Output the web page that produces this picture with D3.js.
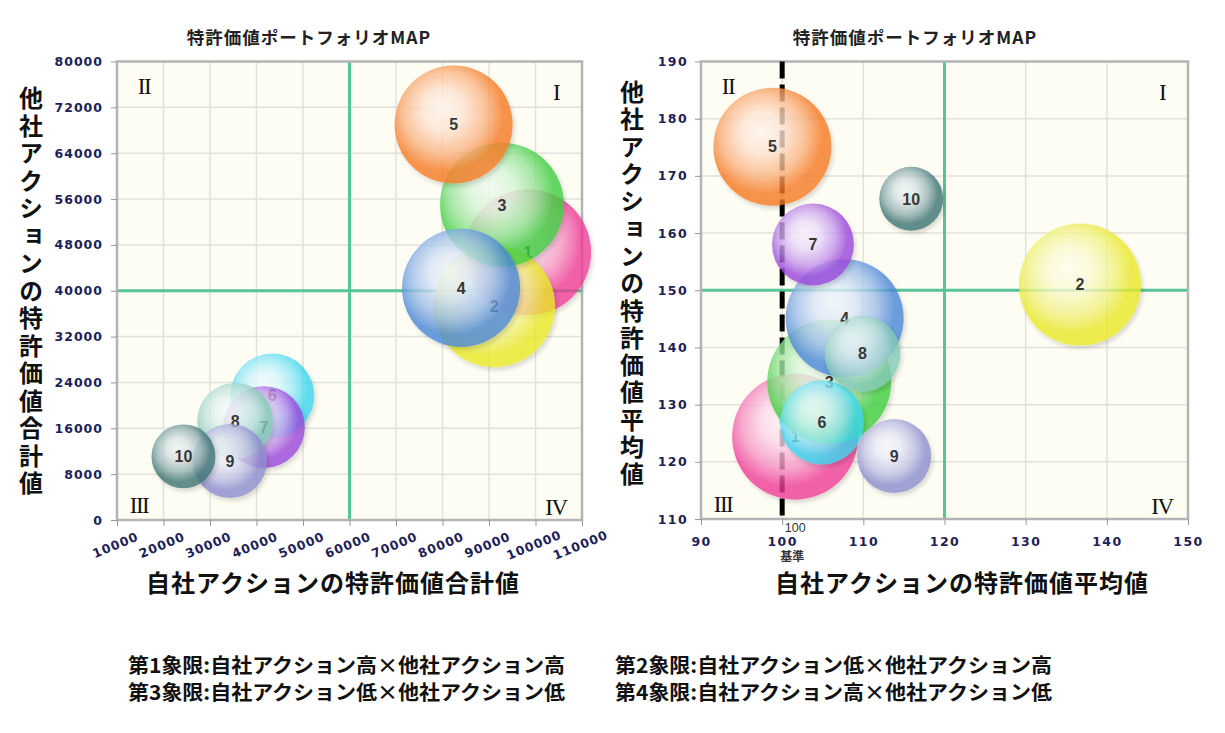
<!DOCTYPE html>
<html><head><meta charset="utf-8">
<script src="https://cdn.jsdelivr.net/npm/d3@7"></script>
<style>body{margin:0;background:#fff} svg{display:block}</style>
</head><body><svg id="c" width="1225" height="733"></svg>
<script>
// ---- data ----
const ids = [1, 2, 3, 4, 5, 6, 7, 8, 9, 10];
const bubbleSize = [400, 375, 387, 351, 351, 178, 169, 145, 138, 103];
// left: 合計値
const leftX = [98400, 91100, 92800, 84000, 82400, 43400, 41600, 35400, 34300, 24300];
const leftY = [46700, 37300, 55000, 40500, 69000, 21700, 16200, 17300, 10300, 11100];
// right: 平均値
const rightX = [101.6, 136.7, 105.8, 107.7, 98.8, 104.9, 103.8, 109.9, 113.8, 115.9];
const rightY = [124.4, 151.0, 134.0, 145.1, 175.1, 126.9, 158.0, 138.9, 121.0, 166.0];
const leftXTicks = [10000, 20000, 30000, 40000, 50000, 60000, 70000, 80000, 90000, 100000, 110000];
const leftYTicks = [0, 8000, 16000, 24000, 32000, 40000, 48000, 56000, 64000, 72000, 80000];
const rightXTicks = [90, 100, 110, 120, 130, 140, 150];
const rightYTicks = [110, 120, 130, 140, 150, 160, 170, 180, 190];
const leftDiv = [60000, 40000];
const rightDiv = [120, 150];
const baseValue = 100;
const chartTitle = "特許価値ポートフォリオMAP";
const leftXTitle = "自社アクションの特許価値合計値";
const leftYTitle = "他社アクションの特許価値合計値";
const rightXTitle = "自社アクションの特許価値平均値";
const rightYTitle = "他社アクションの特許価値平均値";
const quadrants = ["I", "II", "III", "IV"];
const captions = [
  "第1象限:自社アクション高×他社アクション高",
  "第2象限:自社アクション低×他社アクション高",
  "第3象限:自社アクション低×他社アクション低",
  "第4象限:自社アクション高×他社アクション低"
];
const colors = ["#ee3a94", "#e8e828", "#3ccc3c", "#4a86d6", "#f67820", "#38d6ee", "#9844da", "#84c8b6", "#8a8ccc", "#3b7272"];

// ---- drawing ----
const svg = d3.select('#c');
svg.append('rect').attr('width', 1225).attr('height', 733).attr('fill', '#fff');
const defs = svg.append('defs');
colors.forEach((c, i) => {
  const g = defs.append('radialGradient').attr('id', 'g' + i)
    .attr('cx', '44%').attr('cy', '42%').attr('r', '58%').attr('fx', '40%').attr('fy', '36%');
  const mix = t => d3.interpolateRgb('#ffffff', c)(t);
  [[0, 0.08], [0.3, 0.2], [0.6, 0.55], [0.84, 1], [1, 1]].forEach(([o, t]) =>
    g.append('stop').attr('offset', o).attr('stop-color', mix(t)));
});
const sh = defs.append('filter').attr('id', 'sh').attr('x', '-20%').attr('y', '-20%').attr('width', '150%').attr('height', '150%');
sh.append('feDropShadow').attr('dx', 2).attr('dy', 3).attr('stdDeviation', 2).attr('flood-color', '#000').attr('flood-opacity', 0.18);

const rScale = d3.scaleSqrt().domain([0, d3.max(bubbleSize)]).range([0, 63]);
const tickFont = "'DejaVu Sans', Verdana, sans-serif";
const cjk = "'Noto Sans CJK JP', 'Noto Sans CJK SC', sans-serif";

function chart(cfg) {
  const x = d3.scaleLinear().domain(cfg.xDomain).range([cfg.left, cfg.right]);
  const y = d3.scaleLinear().domain(cfg.yDomain).range([cfg.bottom, cfg.top]);
  const g = svg.append('g');
  // background
  g.append('rect').attr('x', cfg.left).attr('y', cfg.top)
    .attr('width', cfg.right - cfg.left).attr('height', cfg.bottom - cfg.top)
    .attr('fill', '#fdfdf4');
  // grid
  g.selectAll('.gx').data(cfg.xTicks).join('line')
    .attr('x1', d => x(d)).attr('x2', d => x(d)).attr('y1', cfg.top).attr('y2', cfg.bottom)
    .attr('stroke', '#e2e2dc').attr('stroke-width', 1.5);
  g.selectAll('.gy').data(cfg.yTicks).join('line')
    .attr('y1', d => y(d)).attr('y2', d => y(d)).attr('x1', cfg.left).attr('x2', cfg.right)
    .attr('stroke', '#e2e2dc').attr('stroke-width', 1.5);
  // quadrant lines
  g.append('line').attr('x1', x(cfg.div[0])).attr('x2', x(cfg.div[0])).attr('y1', cfg.top).attr('y2', cfg.bottom)
    .attr('stroke', '#55c497').attr('stroke-width', 3);
  g.append('line').attr('y1', y(cfg.div[1])).attr('y2', y(cfg.div[1])).attr('x1', cfg.left).attr('x2', cfg.right)
    .attr('stroke', '#55c497').attr('stroke-width', 3);
  // border
  g.append('rect').attr('x', cfg.left).attr('y', cfg.top)
    .attr('width', cfg.right - cfg.left).attr('height', cfg.bottom - cfg.top)
    .attr('fill', 'none').attr('stroke', '#b4b4b4').attr('stroke-width', 2.5);
  // baseline
  if (cfg.base !== undefined) {
    g.append('line').attr('x1', x(cfg.base)).attr('x2', x(cfg.base)).attr('y1', cfg.top).attr('y2', cfg.bottom)
      .attr('stroke', '#000').attr('stroke-width', 5).attr('stroke-dasharray', '17,6');
  }
  // axes
  const ya = g.append('g').attr('transform', `translate(${cfg.left},0)`)
    .call(d3.axisLeft(y).tickValues(cfg.yTicks).tickSize(6).tickPadding(cfg.yPad).tickFormat(d3.format('d')));
  ya.select('.domain').remove();
  ya.selectAll('line').attr('stroke', '#999');
  ya.selectAll('text').attr('font-family', tickFont).attr('font-weight', 'bold').attr('font-size', 12.5)
    .attr('fill', '#1e1e58').attr('letter-spacing', cfg.ls);
  const xa = g.append('g').attr('transform', `translate(0,${cfg.bottom})`)
    .call(d3.axisBottom(x).tickValues(cfg.xTicks).tickSize(6).tickPadding(cfg.xPad).tickFormat(d3.format('d')));
  xa.select('.domain').remove();
  xa.selectAll('line').attr('stroke', '#999');
  xa.selectAll('text').attr('font-family', tickFont).attr('font-weight', 'bold').attr('font-size', 12.5)
    .attr('fill', '#1e1e58').attr('letter-spacing', cfg.ls);
  if (cfg.rotate) {
    xa.selectAll('text').attr('y', 0).attr('dy', '0.35em').attr('text-anchor', 'middle')
      .attr('transform', 'translate(-2,25) rotate(-22)');
  }
  // quadrant numerals
  const qpos = [[cfg.right - 26, cfg.top + 38], [cfg.left + 27, cfg.top + 32], [cfg.left + 22, cfg.bottom - 7], [cfg.right - 26, cfg.bottom - 5]];
  quadrants.forEach((q, i) => {
    g.append('text').attr('x', qpos[i][0]).attr('y', qpos[i][1]).attr('text-anchor', 'middle')
      .attr('font-family', "'Liberation Serif', 'DejaVu Serif', serif").attr('font-size', 23)
      .attr('letter-spacing', -1.5).attr('fill', '#111').text(q);
  });
  // bubbles
  const bg = g.selectAll('.b').data(ids).join('g');
  bg.append('circle')
    .attr('cx', (d, i) => x(cfg.xs[i])).attr('cy', (d, i) => y(cfg.ys[i]))
    .attr('r', (d, i) => rScale(bubbleSize[i]))
    .attr('fill', (d, i) => `url(#g${i})`).attr('opacity', 0.8).attr('filter', 'url(#sh)');
  bg.append('text')
    .attr('x', (d, i) => x(cfg.xs[i])).attr('y', (d, i) => y(cfg.ys[i]))
    .attr('dy', '0.36em').attr('text-anchor', 'middle')
    .attr('font-family', "'Liberation Sans', Arial, sans-serif").attr('font-weight', 'bold').attr('font-size', 16)
    .attr('fill', '#383838').text(d => d);
  // title
  g.append('text').attr('x', cfg.titleX).attr('y', 44).attr('text-anchor', 'middle')
    .attr('font-family', cjk).attr('font-weight', 'bold').attr('font-size', 17.5).attr('letter-spacing', 1)
    .attr('fill', '#222').text(chartTitle);
  // x title
  g.append('text').attr('x', cfg.xTitleX).attr('y', 592).attr('text-anchor', 'middle')
    .attr('font-family', cjk).attr('font-weight', 'bold').attr('font-size', 24).attr('letter-spacing', 1)
    .attr('fill', '#111').text(cfg.xTitle);
  // y title (vertical writing)
  g.append('text').attr('x', cfg.yTitleX).attr('y', cfg.yTitleY0)
    .attr('font-family', cjk).attr('font-weight', 'bold').attr('font-size', 24)
    .attr('letter-spacing', cfg.yTitleStep - 24)
    .style('writing-mode', 'vertical-rl').style('text-orientation', 'upright')
    .attr('fill', '#111').text(cfg.yTitle);
  return { x, y, g };
}

chart({
  left: 117, right: 582, top: 61.5, bottom: 520,
  xDomain: [10000, 110000], yDomain: [0, 80000],
  xTicks: leftXTicks, yTicks: leftYTicks, xs: leftX, ys: leftY,
  div: leftDiv, yPad: 8, xPad: 8, ls: 1, rotate: true,
  titleX: 309, xTitle: leftXTitle, xTitleX: 333,
  yTitle: leftYTitle, yTitleX: 31, yTitleY0: 86, yTitleStep: 27.5
});
const R = chart({
  left: 701, right: 1188, top: 61.5, bottom: 519,
  xDomain: [90, 150], yDomain: [110, 190],
  xTicks: rightXTicks, yTicks: rightYTicks, xs: rightX, ys: rightY,
  div: rightDiv, yPad: 7, xPad: 12, ls: 1.4, rotate: false, base: baseValue,
  titleX: 915, xTitle: rightXTitle, xTitleX: 962,
  yTitle: rightYTitle, yTitleX: 632, yTitleY0: 80, yTitleStep: 27.3
});
// baseline annotation
R.g.append('text').attr('x', R.x(baseValue) + 13).attr('y', 532).attr('text-anchor', 'middle')
  .attr('font-family', "'Liberation Sans', Arial, sans-serif").attr('font-size', 12.5).attr('fill', '#333').text(baseValue);
R.g.append('text').attr('x', R.x(baseValue) + 10).attr('y', 561).attr('text-anchor', 'middle')
  .attr('font-family', cjk).attr('font-size', 12).attr('font-weight', 'bold').attr('fill', '#333').text('基準');

// captions
const capPos = [[128, 673], [615, 673], [128, 700], [615, 700]];
captions.forEach((t, i) => {
  svg.append('text').attr('x', capPos[i][0]).attr('y', capPos[i][1])
    .attr('font-family', cjk).attr('font-weight', 'bold').attr('font-size', 20)
    .attr('textLength', 437).attr('lengthAdjust', 'spacingAndGlyphs')
    .attr('fill', '#111').text(t);
});
</script></body></html>
